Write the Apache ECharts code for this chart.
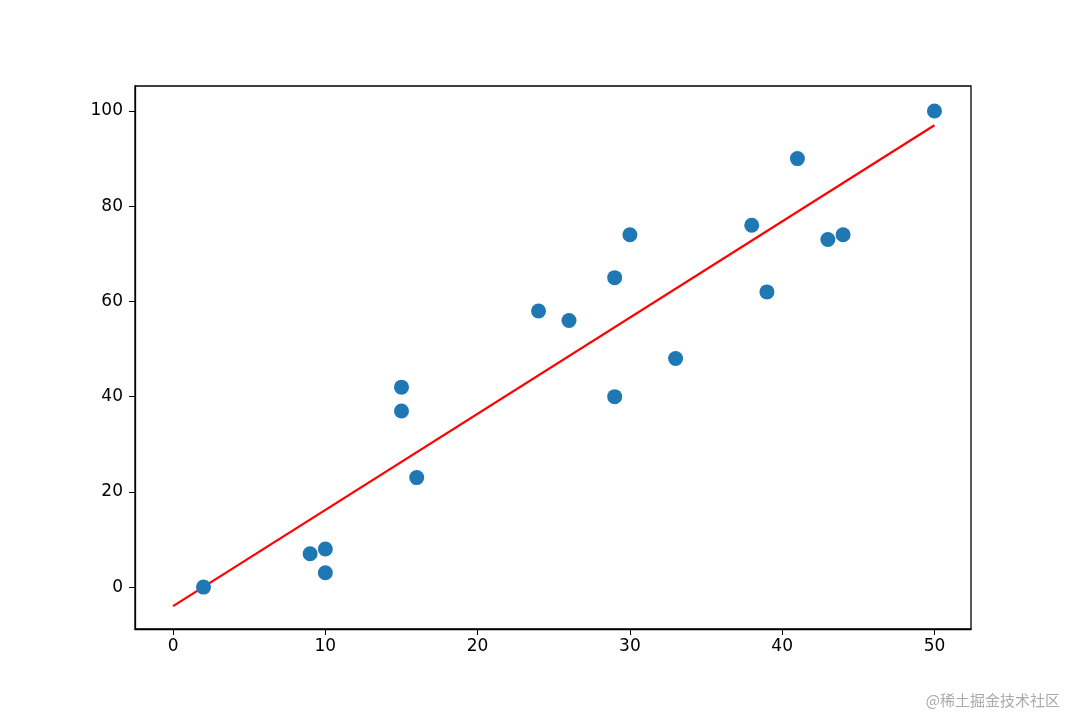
<!DOCTYPE html>
<html><head><meta charset="utf-8">
<script src="https://cdn.jsdelivr.net/npm/echarts@6/dist/echarts.min.js"></script>
<style>html,body{margin:0;padding:0;background:#fff}#c{width:1080px;height:720px}</style>
</head><body><div id="c"></div>
<script>
const xs = [2,9,10,10,15,15,16,24,26,29,29,30,33,38,39,41,43,44,50];
const ys = [0,7,8,3,42,37,23,58,56,65,40,74,48,76,62,90,73,74,100];
const fitX = [0,50];
const fitY = [-4,97];
const xTicks = [0,10,20,30,40,50];
const yTicks = [0,20,40,60,80,100];
const chart = echarts.init(document.getElementById('c'));
const font = 'DejaVu Sans';
chart.setOption({
  animation:false,
  grid:{left:135,right:109,top:86,bottom:91,show:true,borderColor:'#000',borderWidth:1.3},
  xAxis:{type:'value',min:-2.5,max:52.4,
    axisLine:{show:true,onZero:false,lineStyle:{color:'#000',width:1.3}},splitLine:{show:false},
    axisTick:{show:true,length:6,lineStyle:{color:'#000'},customValues:xTicks},
    axisLabel:{color:'#000',fontSize:17,fontFamily:font,margin:9,customValues:xTicks}},
  yAxis:{type:'value',min:-8.8,max:105.25,
    axisLine:{show:true,onZero:false,lineStyle:{color:'#000',width:1.3}},splitLine:{show:false},
    axisTick:{show:true,length:6,lineStyle:{color:'#000'},customValues:yTicks},
    axisLabel:{color:'#000',fontSize:17,fontFamily:font,margin:12,customValues:yTicks}},
  series:[
    {type:'line',data:fitX.map((x,i)=>[x,fitY[i]]),symbol:'none',lineStyle:{color:'#ff0000',width:2.2},z:3},
    {type:'scatter',data:xs.map((x,i)=>[x,ys[i]]),symbolSize:15,itemStyle:{color:'#1f77b4',opacity:1},z:4}
  ],
  graphic:[{type:'text',right:20,bottom:12,style:{text:'@稀土掘金技术社区',fill:'#aaa',fontSize:15,fontFamily:'Noto Sans CJK SC'}}]
});
</script></body></html>
